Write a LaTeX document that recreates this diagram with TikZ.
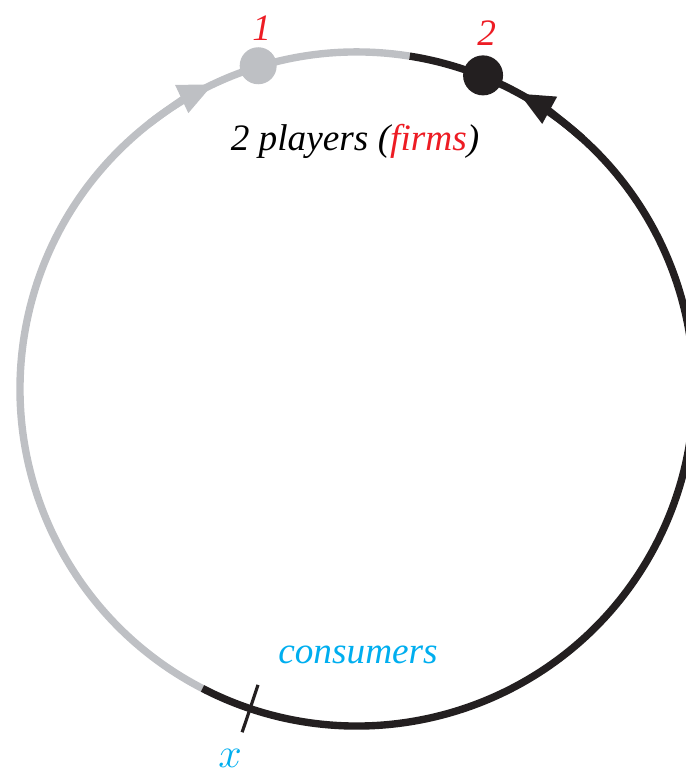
\documentclass[tikz,border=0pt]{standalone}
\usepackage{fontspec}
\setmainfont{Liberation Serif}
\usetikzlibrary{positioning,calc,arrows.meta}

\definecolor{ringgray}{RGB}{190,192,196}
\definecolor{ringblack}{RGB}{35,31,32}
\definecolor{firmred}{RGB}{237,28,36}
\definecolor{buyercyan}{RGB}{0,174,239}

\begin{document}
\begin{tikzpicture}[x=0.01cm, y=0.01cm,
    ring/.style={line width=2.1pt},
    toward/.style={-{Triangle[length=10pt,width=8.2pt]}},
    player/.style={circle, inner sep=0pt},
    lbl/.style={inner sep=0pt, font=\fontsize{10.6}{12}\selectfont\itshape}]
  \useasboundingbox (0,0) rectangle (686,774);
  \coordinate (c) at (357,385);
  % the two halves of the market
  \draw[ring, ringgray] ($(c)+(81:337)$) arc[start angle=81, end angle=242.7, radius=337];
  \draw[ring, ringblack] ($(c)+(242.7:337)$) arc[start angle=242.7, end angle=441, radius=337];
  % directions towards the firms
  \draw[ring, ringgray, toward] ($(c)+(128:337)$) arc[start angle=128, end angle=115.2, radius=337];
  \draw[ring, ringblack, toward] ($(c)+(48:337)$) arc[start angle=48, end angle=61.3, radius=337];
  % firms
  \node[player, fill=ringgray, minimum size=0.37cm] (p1) at ($(c)+(107:338)$) {};
  \node[player, fill=ringblack, minimum size=0.40cm] (p2) at ($(c)+(68.1:338)$) {};
  \node[lbl, text=firmred, above=1.4pt of p1, xshift=1pt] (n1) {1};
  \node[lbl, text=firmred, above=2.4pt of p2, xshift=1pt] (n2) {2};
  \node[lbl] (players) at (355,633) {2 players (\textcolor{firmred}{firms})};
  % consumer location
  \coordinate (tickin) at ($(c)+(251.5:312)$);
  \coordinate (tickout) at ($(c)+(251.5:362)$);
  \draw[ringblack, line width=0.9pt] (tickin) -- (tickout);
  \node[lbl, text=buyercyan] (buyers) at (358,119) {consumers};
  \node[inner sep=0pt, text=buyercyan, font=\fontsize{13}{15}\selectfont] (xpos) at (230,16) {$x$};
\end{tikzpicture}
\end{document}
